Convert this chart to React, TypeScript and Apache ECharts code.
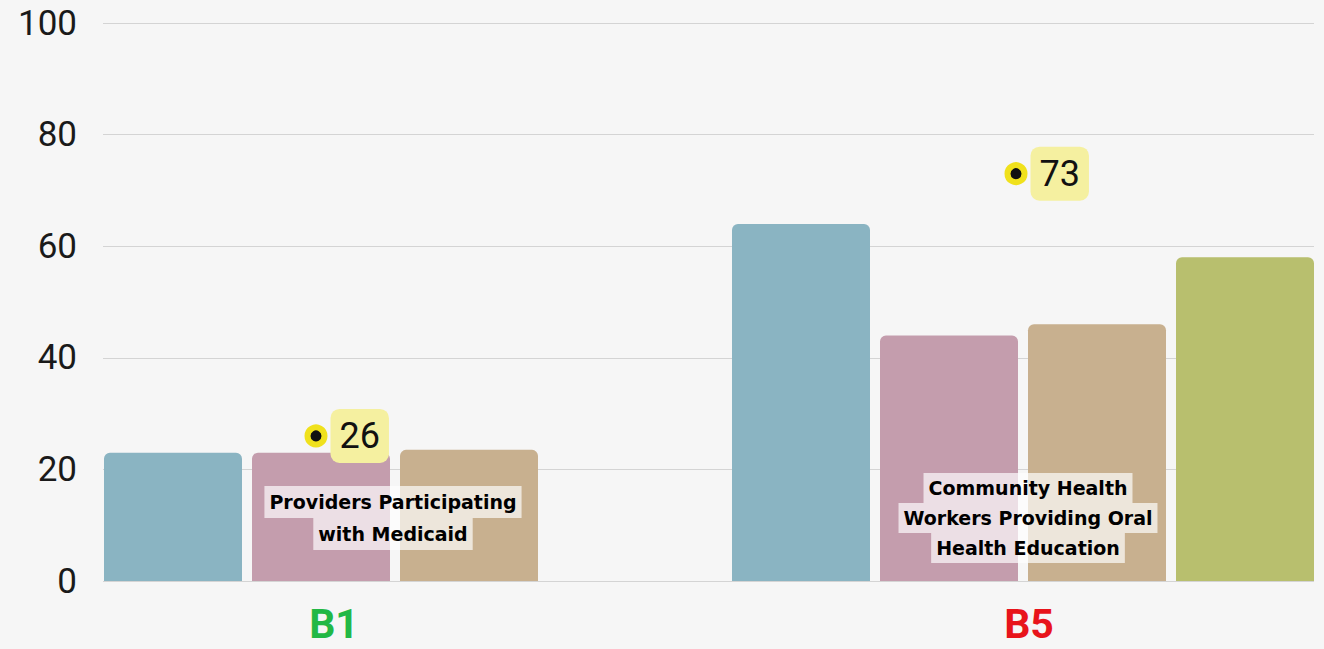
import React, { useEffect, useRef } from "react";
import * as echarts from "echarts";

const categories = ["B1", "B5"];
const yTicks = [0, 20, 40, 60, 80, 100];
const seriesBlue = [23, 64];
const seriesPink = [23, 44];
const seriesTan = [23.5, 46];
const seriesGreen: (number | null)[] = [null, 58];
const targetValues = [26, 73];
const annotationB1 = ["Providers Participating", "with Medicaid"];
const annotationB5 = ["Community Health", "Workers Providing Oral", "Health Education"];

const colors = ["#8ab4c2", "#c49dad", "#c8b08f", "#b8bf6e"];

export default function App() {
  const ref = useRef<HTMLDivElement>(null);
  useEffect(() => {
    document.body.style.margin = "0";
    const chart = echarts.init(ref.current!, undefined, { renderer: "svg" });
    const barSeries = (name: string, data: (number | null)[], color: string) => ({
      type: "bar",
      name,
      xAxisIndex: 1,
      yAxisIndex: 1,
      data,
      clip: false,
      barWidth: 138,
      barGap: "7.25%",
      itemStyle: { color, borderRadius: [6, 6, 0, 0] },
    });
    const annot = (lines: string[], x: number, y: number, lh: number) => ({
      type: "text",
      x,
      y,
      z: 100,
      style: {
        text: lines.map((l) => `{a|${l}}`).join("\n"),
        align: "center",
        verticalAlign: "middle",
        rich: {
          a: {
            fontFamily: "DejaVu Sans",
            fontWeight: "bold",
            fontSize: 19,
            lineHeight: lh,
            height: lh,
            color: "#1e1e1e",
            backgroundColor: "rgba(255,255,255,0.68)",
            padding: [0, 5],
          },
        },
      },
    });
    const xRich = (color: string, padding: number[]) => ({
      color,
      fontSize: 41,
      lineHeight: 36,
      height: 36,
      fontWeight: "bold",
      fontFamily: "Roboto",
      padding,
    });
    chart.setOption({
      animation: false,
      backgroundColor: "#f6f6f6",
      grid: [
        { left: 103, right: 10, top: 23, bottom: 68 },
        { left: 395, width: 628, top: 23, bottom: 68 },
      ],
      xAxis: [
        { type: "category", gridIndex: 0, data: categories, show: false },
        {
          type: "category",
          gridIndex: 1,
          data: categories,
          boundaryGap: false,
          axisLine: { show: false },
          axisTick: { show: false },
          splitLine: { show: false },
          axisLabel: {
            margin: 25,
            formatter: (v: string) => `{${v}|${v}}`,
            rich: {
              B1: xRich("#22b845", [0, 122, 0, 0]),
              B5: xRich("#e8141b", [0, 0, 0, 12]),
            },
          },
        },
      ],
      yAxis: [
        {
          type: "value",
          gridIndex: 0,
          min: yTicks[0],
          max: yTicks[yTicks.length - 1],
          interval: 20,
          axisLine: { show: false },
          axisTick: { show: false },
          axisLabel: { fontSize: 35, color: "#1a1a1a", fontFamily: "Roboto", margin: 26 },
          splitLine: { lineStyle: { color: "#d4d4d4", width: 1 } },
        },
        {
          type: "value",
          gridIndex: 1,
          min: yTicks[0],
          max: yTicks[yTicks.length - 1],
          interval: 20,
          show: false,
          splitLine: { show: false },
        },
      ],
      series: [
        barSeries("Blue", seriesBlue, colors[0]),
        barSeries("Pink", seriesPink, colors[1]),
        barSeries("Tan", seriesTan, colors[2]),
        barSeries("Green", seriesGreen, colors[3]),
        {
          type: "scatter",
          xAxisIndex: 1,
          yAxisIndex: 1,
          z: 10,
          clip: false,
          symbol: "circle",
          symbolSize: 17,
          itemStyle: { color: "#111", borderColor: "#f0e11c", borderWidth: 6, opacity: 1 },
          data: [
            { value: [categories[0], targetValues[0]], symbolOffset: [-79, 0] },
            { value: [categories[1], targetValues[1]], symbolOffset: [-7, 0] },
          ],
          label: {
            show: true,
            position: "right",
            distance: 3,
            formatter: (p: any) => String(p.value[1]),
            fontSize: 36,
            fontFamily: "Roboto",
            color: "#111",
            backgroundColor: "#f5f0a0",
            borderRadius: 9,
            padding: [10, 9, 8, 9],
          },
        },
      ],
      graphic: [annot(annotationB1, 393, 518, 32), annot(annotationB5, 1028, 518, 30)],
    });
    return () => chart.dispose();
  }, []);
  return <div ref={ref} style={{ width: 1324, height: 649 }} />;
}
